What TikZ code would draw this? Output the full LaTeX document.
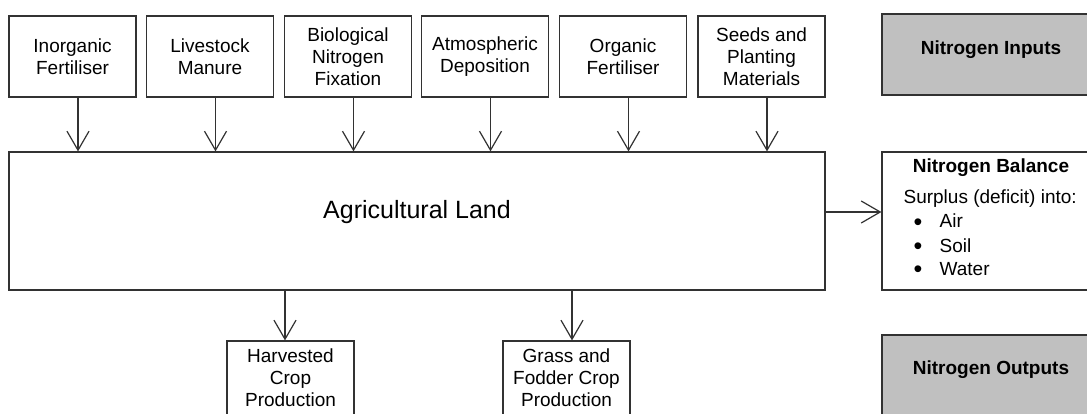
\documentclass[tikz,border=0pt]{standalone}
\usepackage{fontspec}
\setmainfont{Liberation Sans}
\usetikzlibrary{arrows.meta}
\definecolor{keygray}{RGB}{192,192,192}
\definecolor{edgegray}{RGB}{50,50,50}
\newcommand{\listdot}{\makebox[26pt][l]{\raisebox{-2.5pt}{\fontsize{25}{22}\selectfont\textbullet}}}

\begin{document}
\begin{tikzpicture}[x=1pt,y=-1pt,
        box/.style={draw=edgegray,line width=1.2pt,minimum width=127pt,minimum height=81pt,inner sep=0pt,align=center,font=\fontsize{19}{22}\selectfont},
        keybox/.style={draw=edgegray,line width=1.2pt,fill=keygray,minimum width=218pt,minimum height=81pt},
        keytext/.style={font=\fontsize{19}{22}\selectfont\bfseries},
        flow/.style={draw=edgegray,line width=1.2pt,-{Straight Barb[length=19pt,width=22pt]}}]
                \clip (0,0) rectangle (1087,414);
                \fill[white] (0,0) rectangle (1087,414);

                \node[box] (inorg) at (72.5,56.5) {Inorganic\\Fertiliser}; %inorganic
                \node[box] (manure) at (210,56.5) {Livestock\\Manure}; %manure
                \node[box] (fix) at (348,56.5) {Biological\\Nitrogen\\Fixation}; %fixation
                \node[box] (dep) at (485,56.5) {Atmospheric\\Deposition}; %deposition
                \node[box] (orgf) at (623,56.5) {Organic\\Fertiliser}; %organic
                \node[box] (seeds) at (761.5,56.5) {Seeds and\\Planting\\Materials}; %seeds

                \node[box,minimum width=816pt,minimum height=138pt,
                      label={[font=\fontsize{25}{30}\selectfont,yshift=9pt]center:Agricultural Land}] (land) at (417,221) {}; %land

                \draw[flow] ([xshift=5.5pt]inorg.south) -- ([xshift=5.5pt]inorg.south |- land.north);
                \draw[flow] ([xshift=5.5pt]manure.south) -- ([xshift=5.5pt]manure.south |- land.north);
                \draw[flow] ([xshift=5.5pt]fix.south) -- ([xshift=5.5pt]fix.south |- land.north);
                \draw[flow] ([xshift=5.5pt]dep.south) -- ([xshift=5.5pt]dep.south |- land.north);
                \draw[flow] ([xshift=5.5pt]orgf.south) -- ([xshift=5.5pt]orgf.south |- land.north);
                \draw[flow] ([xshift=5.5pt]seeds.south) -- ([xshift=5.5pt]seeds.south |- land.north);

                \node[box,minimum width=218pt,minimum height=138pt] (bal) at (991,221) {}; %balance
                \node[keytext,anchor=base] (baltitle) at (991,173) {Nitrogen Balance};
                \node[box,draw=none,minimum size=0pt,anchor=base west] (surplus) at (903,204) {Surplus (deficit) into:};
                \node[box,draw=none,minimum size=0pt,anchor=base west] (air) at (913,228) {\listdot Air};
                \node[box,draw=none,minimum size=0pt,anchor=base west] (soil) at (913,252) {\listdot Soil};
                \node[box,draw=none,minimum size=0pt,anchor=base west] (water) at (913,275) {\listdot Water};

                \draw[flow] ([yshift=9pt]land.east) -- ([yshift=9pt]land.east -| bal.west);

                \node[box,label={[box,draw=none,minimum size=0pt,yshift=4pt]center:Harvested\\Crop\\Production}] (harv) at (290.5,381.5) {}; %harvested
                \node[box,label={[box,draw=none,minimum size=0pt,yshift=4pt]center:Grass and\\Fodder Crop\\Production}] (grass) at (566.5,381.5) {}; %grass

                \draw[flow] ([xshift=-5.5pt]harv.north |- land.south) -- ([xshift=-5.5pt]harv.north);
                \draw[flow] ([xshift=5.5pt]grass.north |- land.south) -- ([xshift=5.5pt]grass.north);

                \node[keybox,label={[keytext,yshift=4.5pt]center:Nitrogen Inputs}] (nin) at (991,54.5) {}; %inputs
                \node[keybox,label={[keytext,yshift=6pt]center:Nitrogen Outputs}] (nout) at (991,375.5) {}; %outputs
            \end{tikzpicture}
\end{document}
